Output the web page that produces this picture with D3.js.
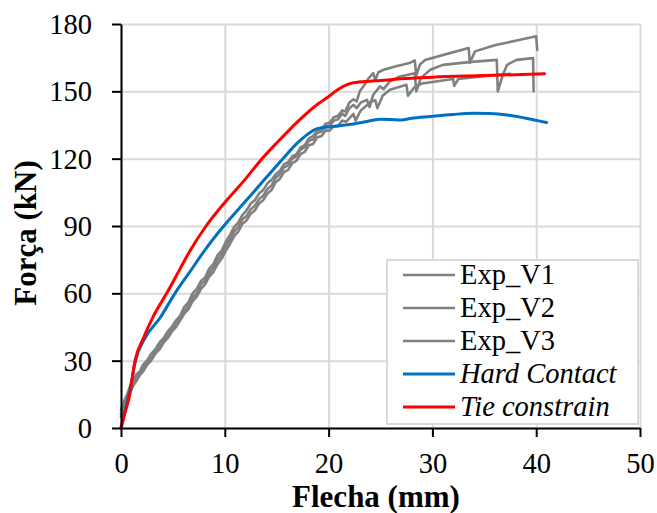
<!DOCTYPE html>
<html>
<head>
<meta charset="utf-8">
<script src="https://cdn.jsdelivr.net/npm/d3@7"></script>
<style>
  html, body { margin: 0; padding: 0; background: #fff; }
  svg { display: block; }
  text { font-family: "Times New Roman", "Liberation Serif", serif; }
</style>
</head>
<body>
<svg id="chart" width="657" height="513"></svg>
<script>
// ---------- DATA ----------
const xTicks = [0, 10, 20, 30, 40, 50];
const yTicks = [0, 30, 60, 90, 120, 150, 180];
const xTitle = "Flecha (mm)";
const yTitle = "Força (kN)";
const seriesNames = ["Exp_V1", "Exp_V2", "Exp_V3", "Hard Contact", "Tie constrain"];

const expV1 = [[0,8],[0.3,12],[0.6,15],[0.9,19],[1.2,21],[1.5,24],[1.8,25],[2.1,28],[2.5,30],[2.9,33],[3.3,35],[3.7,38],[4.1,40],[4.5,43],[4.9,45],[5.3,48],[5.7,50],[6.1,54],[6.5,56],[6.9,60],[7.3,62],[7.7,65.5],[8.1,67],[8.5,71],[8.9,73],[9.3,77],[9.7,79],[10.1,83],[10.5,86],[10.9,89.5],[11.3,91.5],[11.7,95],[12.1,97],[12.5,100],[12.9,101.5],[13.3,104.5],[13.7,106],[14.1,109],[14.5,110.5],[14.9,113],[15.3,114.5],[15.7,117.5],[16.1,118.5],[16.5,121],[16.9,122],[17.3,125],[17.7,126],[18.1,129],[18.5,130],[18.9,132.5],[19.3,133],[19.7,135.5],[20.1,136],[20.5,138.5],[20.9,139],[21.3,141.5],[21.6,141],[22.0,145],[22.4,146.5],[22.7,145.5],[23.0,150],[23.4,152.5],[23.8,155.5],[24.3,158.1],[24.5,155],[24.8,158.5],[25.3,159.6],[26.5,161.2],[27.8,162.6],[28.3,163.8],[28.45,157],[28.8,162],[29.3,164],[31.5,166.8],[33.5,169.3],[33.6,162.6],[34.1,167.8],[36,170.5],[38,172.5],[40,174.5],[40.1,168.5]];

const expV2 = [[0,6],[0.3,10],[0.6,14],[0.9,17],[1.2,20],[1.5,22],[1.8,24.5],[2.1,26],[2.5,29],[2.9,31],[3.3,34],[3.7,36],[4.1,39],[4.5,41],[4.9,44],[5.3,46],[5.7,49],[6.1,52],[6.5,54.5],[6.9,58],[7.3,60],[7.7,64],[8.1,65.5],[8.5,69],[8.9,71.5],[9.3,75],[9.7,77.5],[10.1,81],[10.5,84],[10.9,87.5],[11.3,89.5],[11.7,93],[12.1,94.5],[12.5,97.5],[12.9,99],[13.3,102],[13.7,103.5],[14.1,106.5],[14.5,108],[14.9,111.5],[15.3,113],[15.7,116],[16.1,117],[16.5,120],[16.9,121],[17.3,124],[17.7,125],[18.1,128],[18.5,128.5],[18.9,131.5],[19.3,132],[19.7,134.5],[20.1,134.5],[20.5,137],[20.9,137.5],[21.3,140],[21.6,139],[22.0,142.5],[22.4,144],[22.7,142.5],[23.1,145],[23.7,146.2],[23.95,143],[24.3,148.5],[24.95,152.2],[25.3,151],[25.9,154.5],[26.9,156.6],[28.3,158.1],[28.45,150],[28.9,156],[29.8,159.6],[31,161.8],[33.5,163],[36.2,164],[36.3,150],[36.8,157.5],[37.2,161.8],[38.1,164],[39.7,164.8],[39.75,150]];

const expV3 = [[0,5],[0.3,9],[0.6,13],[0.9,16],[1.2,19],[1.5,21],[1.8,23.5],[2.1,25],[2.5,28],[2.9,30],[3.3,33],[3.7,35],[4.1,38],[4.5,40],[4.9,43],[5.3,45],[5.7,48],[6.1,51],[6.5,53],[6.9,56.5],[7.3,58.5],[7.7,62],[8.1,64],[8.5,67.5],[8.9,69.5],[9.3,73],[9.7,75.5],[10.1,79],[10.5,82],[10.9,85.5],[11.3,87.5],[11.7,91],[12.1,92.5],[12.5,95.5],[12.9,97],[13.3,100],[13.7,101.5],[14.1,104.5],[14.5,106],[14.9,109.5],[15.3,111],[15.7,114],[16.1,115],[16.5,118],[16.9,119],[17.3,122],[17.7,123],[18.1,126],[18.5,126.5],[18.9,129.5],[19.3,130],[19.7,132.5],[20.1,132.5],[20.5,134.5],[20.9,134.5],[21.3,137],[21.7,136.5],[22.4,140],[22.6,137],[23.1,141.5],[23.5,143],[24.1,145.5],[24.5,146],[24.7,142.5],[25.2,148],[25.9,150.7],[27.5,152.9],[27.65,148],[28.2,151.5],[29,153.5],[30.5,154.5],[32,155.5],[32.1,152.5],[32.5,155.5],[34.5,156.5],[36.5,157.4],[37.5,157.8]];

const hardContact = [[0,0],[0.4,8],[0.9,18],[1.4,30],[2.3,40],[3.75,49],[5.2,60],[6.65,69.7],[8.1,79.4],[9.9,90],[11.8,100],[13.7,110],[15.6,120],[17,127],[17.9,130.6],[18.9,133.4],[20.4,134.3],[22,135.2],[23.7,136.6],[25,137.6],[26,137.5],[27,137.2],[28,138],[29.8,138.8],[32,139.7],[33.9,140.2],[35.5,140.1],[37.2,139.5],[39,138],[41,136.1]];

const tieConstrain = [[0,0],[0.4,7],[0.8,14],[1.35,30],[2.15,40],[3.1,49.6],[4.4,60],[5.7,71],[6.65,79],[8.2,90],[10,100.5],[12,111],[13.4,119],[15,127],[17.2,137.3],[19,144.5],[19.8,147],[21.1,151.4],[22.4,153.8],[24,154.5],[25,154.8],[27,155.6],[30,156.3],[35,157],[40.8,157.8]];

// ---------- CHART ----------
const svg = d3.select("#chart");
const X0 = 121, X1 = 640, Y0 = 428, Y1 = 24;
const x = d3.scaleLinear().domain([0, 50]).range([X0, X1]);
const y = d3.scaleLinear().domain([0, 180]).range([Y0, Y1]);

const gridColor = "#d9d9d9";
// grid
svg.append("g").attr("transform", `translate(0,${Y0})`)
  .call(d3.axisBottom(x).tickValues(xTicks).tickSize(-(Y0 - Y1)).tickFormat(""))
  .call(g => g.select(".domain").remove())
  .call(g => g.selectAll("line").attr("stroke", gridColor).attr("stroke-width", 2));
svg.append("g").attr("transform", `translate(${X0},0)`)
  .call(d3.axisLeft(y).tickValues(yTicks).tickSize(-(X1 - X0)).tickFormat(""))
  .call(g => g.select(".domain").remove())
  .call(g => g.selectAll("line").attr("stroke", gridColor).attr("stroke-width", 2));

// series
const lineLin = d3.line().x(d => x(d[0])).y(d => y(d[1]));
const lineSmooth = d3.line().x(d => x(d[0])).y(d => y(d[1])).curve(d3.curveMonotoneX);

[expV3, expV2, expV1].forEach(s => {
  svg.append("path").datum(s).attr("d", lineLin)
    .attr("fill", "none").attr("stroke", "#808080").attr("stroke-width", 2.6)
    .attr("stroke-linejoin", "round").attr("stroke-linecap", "round");
});
svg.append("path").datum(hardContact).attr("d", lineSmooth)
  .attr("fill", "none").attr("stroke", "#0070C0").attr("stroke-width", 3)
  .attr("stroke-linejoin", "round").attr("stroke-linecap", "round");
svg.append("path").datum(tieConstrain).attr("d", lineSmooth)
  .attr("fill", "none").attr("stroke", "#FF0000").attr("stroke-width", 3)
  .attr("stroke-linejoin", "round").attr("stroke-linecap", "round");

// axes
const tickFont = 28.5;
const xAxis = svg.append("g").attr("transform", `translate(0,${Y0})`)
  .call(d3.axisBottom(x).tickValues(xTicks).tickSize(9).tickSizeOuter(0).tickPadding(12));
const yAxis = svg.append("g").attr("transform", `translate(${X0},0)`)
  .call(d3.axisLeft(y).tickValues(yTicks).tickSize(9).tickSizeOuter(0).tickPadding(20));
[xAxis, yAxis].forEach(a => {
  a.select(".domain").attr("stroke", "#000").attr("stroke-width", 2);
  a.selectAll(".tick line").attr("stroke", "#000").attr("stroke-width", 2);
  a.selectAll(".tick text").attr("fill", "#000")
    .style("font-family", '"Times New Roman", "Liberation Serif", serif')
    .style("font-size", tickFont + "px");
});
xAxis.selectAll(".tick text").attr("dy", null).attr("y", 45);
yAxis.selectAll(".tick text").attr("dy", "0.33em");

// titles
svg.append("text").attr("x", 376).attr("y", 507).attr("text-anchor", "middle")
  .style("font-size", "31px").style("font-weight", "bold").text(xTitle);
svg.append("text").attr("transform", "translate(36,233) rotate(-90)").attr("text-anchor", "middle")
  .style("font-size", "31px").style("font-weight", "bold").text(yTitle);

// legend
const lg = svg.append("g");
lg.append("rect").attr("x", 387).attr("y", 260).attr("width", 251).attr("height", 164)
  .attr("fill", "#fff").attr("stroke", gridColor).attr("stroke-width", 2);
const legColors = ["#808080", "#808080", "#808080", "#0070C0", "#FF0000"];
const legItalic = [false, false, false, true, true];
const rowY = [275, 308, 341, 374, 407];
seriesNames.forEach((n, i) => {
  lg.append("line").attr("x1", 403).attr("x2", 455).attr("y1", rowY[i]).attr("y2", rowY[i])
    .attr("stroke", legColors[i]).attr("stroke-width", i < 3 ? 2.6 : 3);
  lg.append("text").attr("x", 460).attr("y", rowY[i]).attr("dy", "0.33em")
    .style("font-size", "28.5px").style("font-style", legItalic[i] ? "italic" : "normal")
    .text(n);
});
</script>
</body>
</html>
